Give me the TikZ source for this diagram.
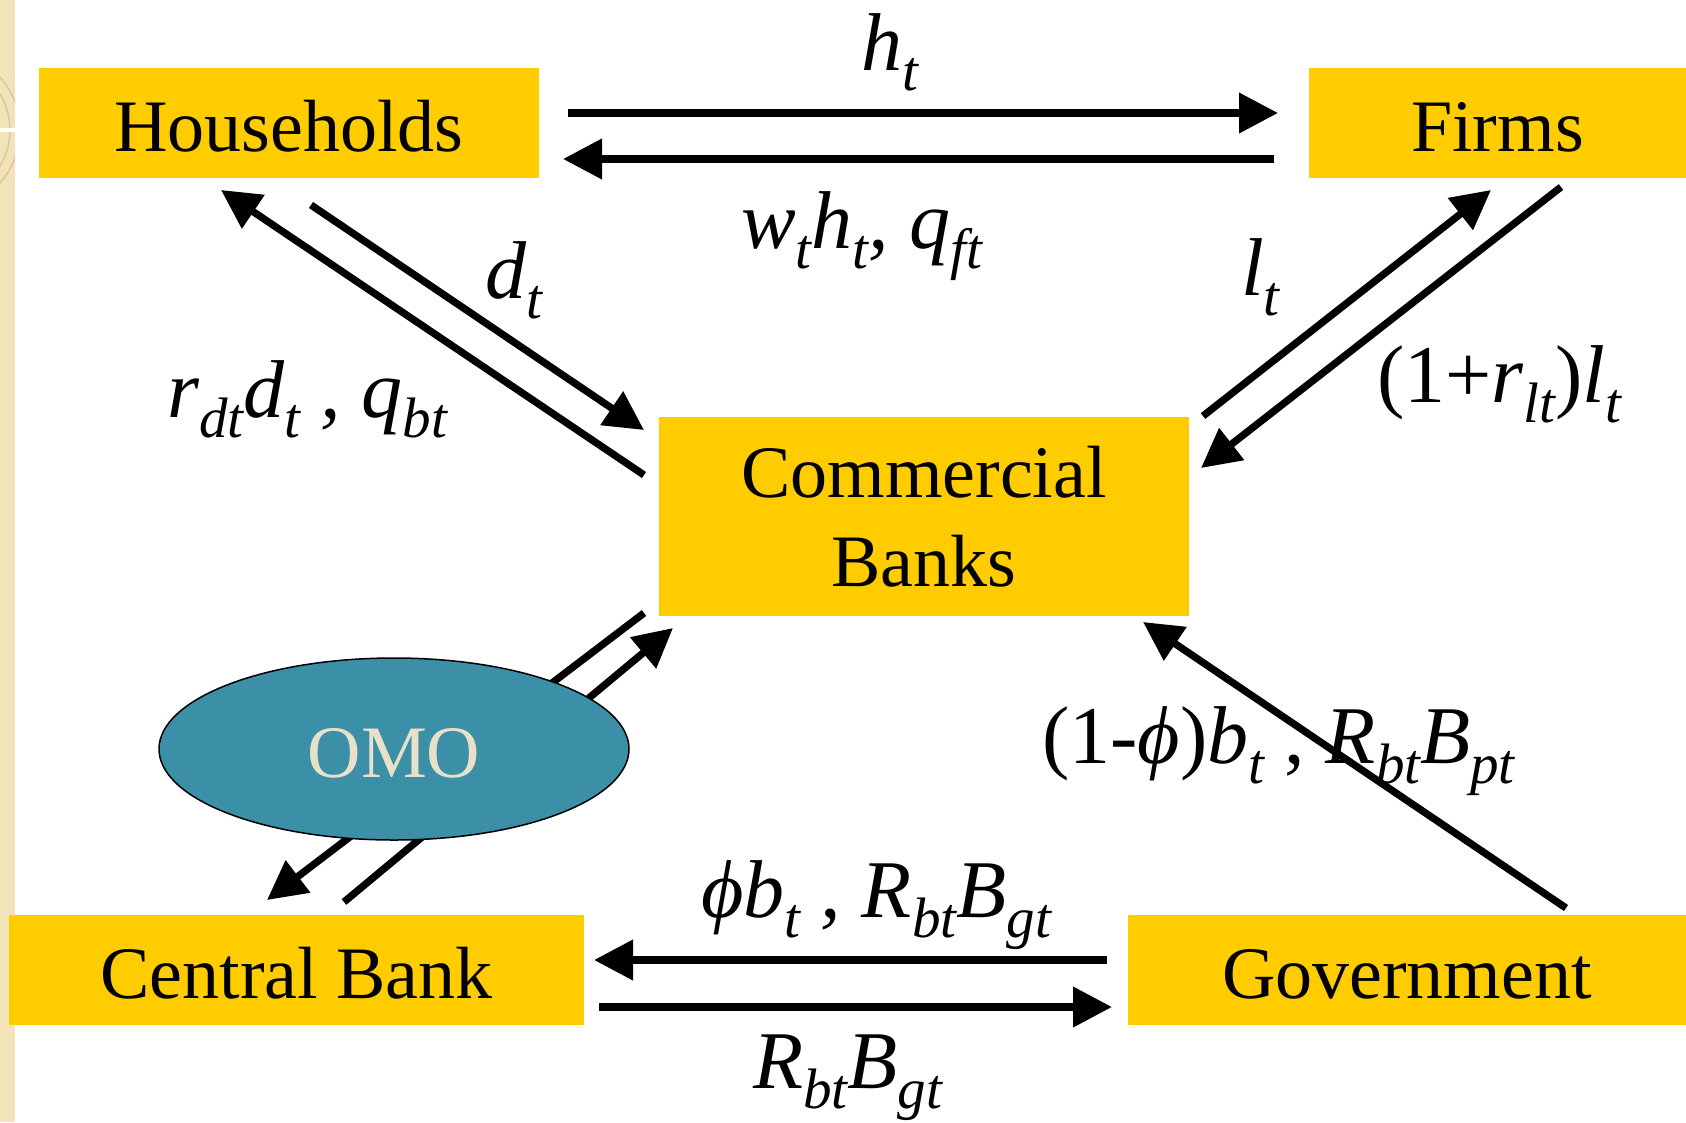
\documentclass[tikz,border=0pt]{standalone}
\usepackage{fontspec}
\setmainfont{Liberation Serif}[Ligatures=NoCommon]
\usetikzlibrary{arrows.meta,shapes.geometric}
\definecolor{boxyellow}{HTML}{FFCC00}
\definecolor{omoteal}{HTML}{3B8FA7}
\definecolor{omotext}{HTML}{E8E0C8}
\definecolor{stripbeige}{HTML}{F3E3B9}
\definecolor{striparc}{HTML}{DCC89A}
\newcommand\sbs[1]{\raisebox{-20pt}{\fontsize{57pt}{57pt}\selectfont #1}}
\begin{document}
\begin{tikzpicture}[x=1pt,y=-1pt,
  box/.style={fill=boxyellow, draw=none, inner sep=0pt, font=\fontsize{74pt}{89pt}\selectfont},
  oneline/.style={text height=56pt, text depth=0pt},
  lbl/.style={inner sep=0pt, anchor=base west, font=\fontsize{82pt}{82pt}\selectfont},
  arr/.style={line width=7.3pt, -{Triangle[length=39pt,width=39pt]}}]
\useasboundingbox (0,0) rectangle (1686,1122);
\fill[white] (0,0) rectangle (1686,1122);
% decorative strip at the left edge
\fill[stripbeige] (0,0) rectangle (15,1122);
\begin{scope}
  \clip (0,0) rectangle (15,1122);
  \draw[striparc, line width=1.5pt] (-60,130) circle[radius=80];
  \draw[striparc, line width=1.5pt] (-60,130) circle[radius=70];
  \draw[white, line width=4pt] (0,130) -- (15,130);
\end{scope}
% boxes
\node[box, oneline, minimum width=500pt, minimum height=110pt] (hh) at (289,123) {Households};
\node[box, oneline, minimum width=377pt, minimum height=110pt] (fi) at (1497.5,123) {Firms};
\node[box, align=center, minimum width=530pt, minimum height=199pt] (cb) at (924,516.5) {Commercial\\Banks};
\node[box, oneline, minimum width=575pt, minimum height=110pt] (cen) at (296.5,970) {Central Bank};
\node[box, oneline, minimum width=558pt, minimum height=110pt] (gov) at (1407,970) {Government};
% OMO connectors (under the ellipse)
\coordinate (o1a) at (644,613); \coordinate (o1b) at (267,900);
\coordinate (o2a) at (344,902); \coordinate (o2b) at (673,628);
\draw[arr] (o1a) -- (o1b);
\draw[arr] (o2a) -- (o2b);
\node[ellipse, fill=omoteal, draw=black, line width=1.5pt, minimum width=470pt, minimum height=182pt,
  inner sep=0pt, text=omotext, font=\fontsize{74pt}{74pt}\selectfont, text height=56pt, text depth=0pt] (omo) at (394,749) {OMO};
% Households <-> Firms
\coordinate (hf1) at (568,113); \coordinate (hf2) at (1278,113);
\coordinate (fh1) at (1274,159); \coordinate (fh2) at (563,159);
\draw[arr] (hf1) -- (hf2);
\draw[arr] (fh1) -- (fh2);
% Households <-> Commercial Banks
\coordinate (bh1) at (644,475); \coordinate (bh2) at (221,190);
\coordinate (hb1) at (311,205); \coordinate (hb2) at (644,430);
\draw[arr] (bh1) -- (bh2);
\draw[arr] (hb1) -- (hb2);
% Firms <-> Commercial Banks
\coordinate (bf1) at (1203,416); \coordinate (bf2) at (1491,190);
\coordinate (fb1) at (1561,187); \coordinate (fb2) at (1201,468);
\draw[arr] (bf1) -- (bf2);
\draw[arr] (fb1) -- (fb2);
% Central Bank <-> Government
\coordinate (gc1) at (1107,960); \coordinate (gc2) at (594,960);
\coordinate (cg1) at (599,1007); \coordinate (cg2) at (1112,1007);
\draw[arr] (gc1) -- (gc2);
\draw[arr] (cg1) -- (cg2);
% labels
\node[lbl] (lh) at (861,70) {\itshape h\sbs{t}};
\node[lbl] (lw) at (741,248) {\itshape w\sbs{t}h\sbs{t}, q\sbs{f{}t}};
\node[lbl] (ld) at (485,298) {\itshape d\sbs{t}};
\node[lbl] (lr) at (167,417) {\itshape r\sbs{dt}d\sbs{t} , q\sbs{bt}};
\node[lbl] (ll) at (1241,295) {\itshape l\sbs{t}};
\node[lbl] (lrl) at (1377,402) {(1+\textit{r\sbs{lt}})\textit{l\sbs{t}}};
\node[lbl] (lphi) at (1042,763) {(1-\textit{ϕ})\textit{b\sbs{t}} , \textit{R\sbs{bt}B\sbs{pt}}};
\node[lbl] (lpg) at (701,917) {\itshape ϕb\sbs{t} , R\sbs{bt}B\sbs{gt}};
\node[lbl] (lrb) at (753,1088) {\itshape R\sbs{bt}B\sbs{gt}};
% Government -> Commercial Banks (drawn over its label)
\coordinate (gb1) at (1566,908); \coordinate (gb2) at (1143,622);
\draw[arr] (gb1) -- (gb2);
\end{tikzpicture}
\end{document}
